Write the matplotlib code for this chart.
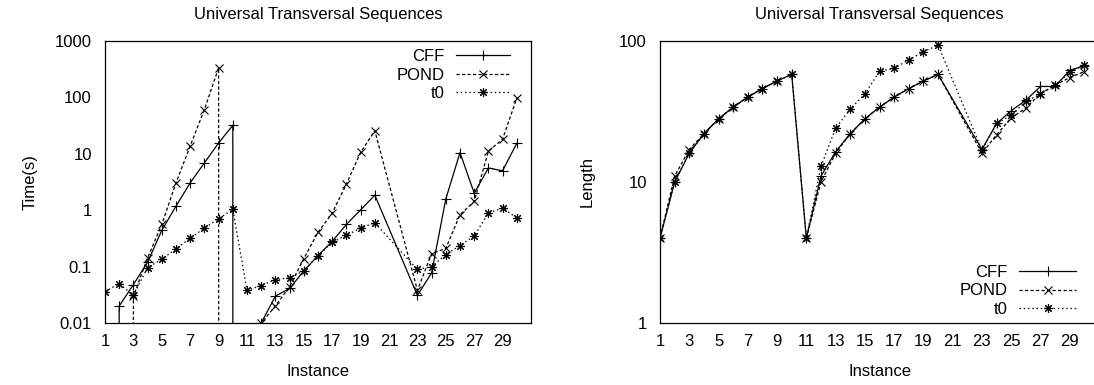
import numpy as np
import matplotlib.pyplot as plt

plt.rcParams['font.family'] = ['Liberation Sans', 'DejaVu Sans']
plt.rcParams['font.size'] = 12

# instancias 21 y 22 no aparecen en los datos
instances = list(range(1, 21)) + list(range(23, 31))

# tiempos (s); 0 = tiempo nulo (se va fuera del eje log)
cff_time = [0, 0.02, 0.048, 0.12, 0.44, 1.18, 3.06, 6.9, 15.6, 31.9,
            0, 0.01, 0.030, 0.041, 0.084, 0.157, 0.28, 0.56, 1.01, 1.85,
            0.031, 0.077, 1.58, 10.5, 2.0, 5.6, 5.0, 15.4]
pond_time = [0, 0, 0.030, 0.143, 0.56, 3.06, 13.8, 61, 333, 0,
             0, 0.01, 0.020, 0.044, 0.139, 0.405, 0.89, 2.9, 10.6, 25.7,
             0.038, 0.17, 0.21, 0.83, 1.43, 11.1, 18.2, 97]
t0_time = [0.036, 0.050, 0.031, 0.096, 0.135, 0.206, 0.32, 0.48, 0.71, 1.03,
           0.038, 0.046, 0.059, 0.063, 0.084, 0.157, 0.27, 0.36, 0.48, 0.60,
           0.089, 0.10, 0.163, 0.236, 0.35, 0.89, 1.09, 0.73]

# longitudes; nan = sin dato
cff_len = [4, 10, 16, 22, 28, 34, 40, 46, 52, 58,
           4, 11, 16.4, 22, 28, 34, 40, 46, 52, 58,
           17, 26, 32, 38, 47.6, 47.6, 62, 66.6]
pond_len = [4, 11, 17, 22, 28, 34, 40, 46, 52, np.nan,
            4, 10, 16, 22, 28, 34, 40, 46, 52, 58,
            16, 21.6, 28.5, 33.4, 42.4, 48.6, 55, 60.7]
t0_len = [4, 10, 16, 22, 28, 34, 40, 46, 52, 58,
          4, 12.9, 24, 33, 42, 61, 64, 73.5, 83.6, 93.7,
          16.9, 26, 29.8, 37.3, 42, 48.6, 59.8, 67.7]

xticks = list(range(1, 30, 2))
time_ticks = [0.01, 0.1, 1, 10, 100, 1000]
time_labels = ['0.01', '0.1', '1', '10', '100', '1000']
len_ticks = [1, 10, 100]
len_labels = ['1', '10', '100']

estilos = [
    ('CFF', dict(linestyle='-', marker='+', ms=6.5)),
    ('POND', dict(linestyle=(0, (2.6, 1.8)), marker='x', ms=5.2)),
    ('t0', dict(linestyle=(0, (1.2, 2.2)), marker=(8, 2, 0), ms=6.5)),
]


def dibujar(ax, series, ylim, yticks, ylabels, ylabel):
    for (nombre, st), y in zip(estilos, series):
        ax.plot(instances, y, color='black', lw=0.9, mew=0.8,
                label=nombre, **st)
    ax.set_yscale('log')
    ax.set_xlim(1, 31)
    ax.set_ylim(*ylim)
    ax.set_xticks(xticks)
    ax.set_yticks(yticks)
    ax.set_yticklabels(ylabels)
    ax.minorticks_off()
    ax.tick_params(length=0)
    ax.tick_params(axis='x', pad=8)
    ax.tick_params(axis='y', pad=9.5)
    for s in ax.spines.values():
        s.set_linewidth(0.9)
    ax.set_title('Universal Transversal Sequences', fontsize=12, pad=16)
    ax.set_xlabel('Instance', labelpad=11)
    ax.set_ylabel(ylabel)


fig = plt.figure(figsize=(10.94, 3.85), dpi=100)
ax1 = fig.add_axes([105 / 1094, 1 - 323 / 385, 426 / 1094, 282 / 385])
ax2 = fig.add_axes([660 / 1094, 1 - 323 / 385, 439 / 1094, 282 / 385])

dibujar(ax1, [cff_time, pond_time, t0_time], (0.01, 1000),
        time_ticks, time_labels, 'Time(s)')
ax1.yaxis.set_label_coords(-0.157, 0.5)
ax1.legend(loc='upper right', bbox_to_anchor=(0.951, 0.972), frameon=False,
           markerfirst=False, handlelength=3.25, handletextpad=0.7,
           labelspacing=0.22, borderpad=0, borderaxespad=0)

dibujar(ax2, [cff_len, pond_len, t0_len], (1, 100),
        len_ticks, len_labels, 'Length')
ax2.yaxis.set_label_coords(-0.148, 0.5)
ax2.legend(loc='lower right', bbox_to_anchor=(0.9475, 0.021), frameon=False,
           markerfirst=False, handlelength=3.4, handletextpad=0.7,
           labelspacing=0.22, borderpad=0, borderaxespad=0)

fig.savefig('out.png', dpi=100)
